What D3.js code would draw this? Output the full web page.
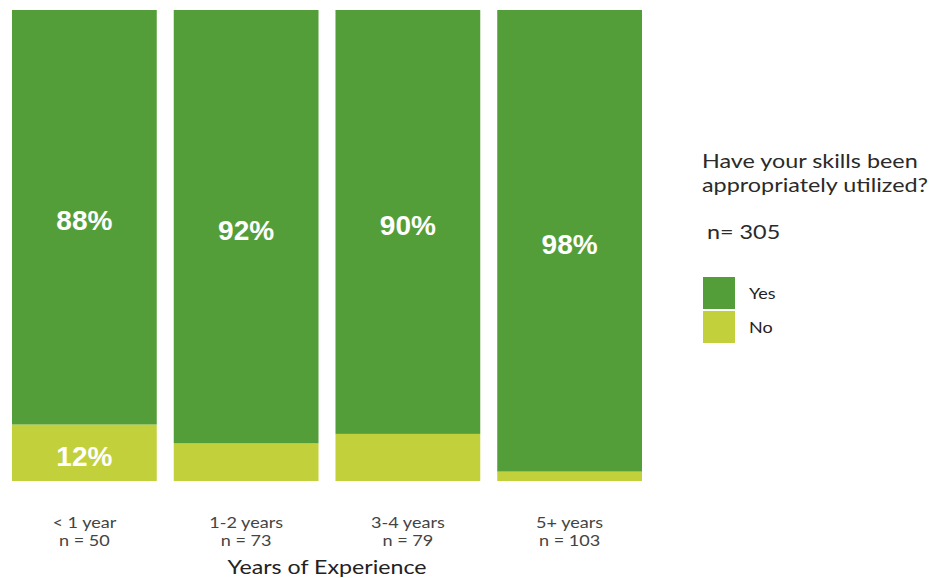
<!DOCTYPE html>
<html>
<head>
<meta charset="utf-8">
<script src="https://cdn.jsdelivr.net/npm/d3@7"></script>
<style>
  html, body { margin: 0; padding: 0; background: #fff; }
  svg { display: block; }
</style>
</head>
<body>
<svg id="chart" width="938" height="578"></svg>
<script>
// Survey data: share of respondents by years of experience
const categories = ["< 1 year", "1-2 years", "3-4 years", "5+ years"];
const groupSizes = [50, 73, 79, 103];
const yesValues = [88, 92, 90, 98];
const noValues = [12, 8, 10, 2];
const seriesNames = ["Yes", "No"];
const seriesColors = ["#549e3a", "#c2d03b"];
const legendTitle = ["Have your skills been", "appropriately utilized?"];
const totalLabel = "n= 305";
const axisTitle = "Years of Experience";

const svg = d3.select("#chart");

const rows = categories.map((c, i) => ({ category: c, n: groupSizes[i], Yes: yesValues[i], No: noValues[i] }));

// No sits at the bottom, Yes stacked above it
const stack = d3.stack().keys(["No", "Yes"]);
const layers = stack(rows);

const x = d3.scaleBand()
  .domain(categories)
  .range([12, 642])
  .paddingInner(0.105)
  .paddingOuter(0);

const y = d3.scaleLinear()
  .domain([0, 100])
  .range([481, 10]);

const color = d3.scaleOrdinal().domain(seriesNames).range(seriesColors);

// Text drawn slightly wide, as in the original layout
function wideText(sel, px, py, sx) {
  return sel.attr("x", 0).attr("y", 0)
    .attr("transform", `translate(${px},${py}) scale(${sx},1)`);
}

const g = svg.append("g");

layers.forEach(layer => {
  g.selectAll(null)
    .data(layer)
    .join("rect")
    .attr("x", d => x(d.data.category))
    .attr("y", d => y(d[1]))
    .attr("width", x.bandwidth())
    .attr("height", d => y(d[0]) - y(d[1]))
    .attr("fill", color(layer.key));
});

// Value labels inside segments large enough to hold them
layers.forEach(layer => {
  g.selectAll(null)
    .data(layer.filter(d => d[1] - d[0] > 10))
    .join("text")
    .attr("x", d => x(d.data.category) + x.bandwidth() / 2)
    .attr("y", d => (y(d[0]) + y(d[1])) / 2)
    .attr("dy", "0.46em")
    .attr("text-anchor", "middle")
    .attr("font-family", "Liberation Sans, Arial, sans-serif")
    .attr("font-weight", "bold")
    .attr("font-size", 28)
    .attr("fill", "#ffffff")
    .text(d => (d[1] - d[0]) + "%");
});

// Category axis (labels only)
const xAxis = d3.axisBottom(x).tickSize(0).tickFormat(() => "");
const axisG = svg.append("g").attr("transform", "translate(0,481)").call(xAxis);
axisG.select(".domain").remove();
axisG.selectAll(".tick").each(function (c, i) {
  const tick = d3.select(this);
  tick.select("text").remove();
  [c, "n = " + groupSizes[i]].forEach((line, k) => {
    wideText(tick.append("text"), 0, 47 + k * 18, 1.13)
      .attr("text-anchor", "middle")
      .attr("font-family", "Lato, sans-serif")
      .attr("font-size", 16)
      .attr("fill", "#444")
      .text(line);
  });
});

wideText(svg.append("text"), (x.range()[0] + x.range()[1]) / 2, 574, 1.16)
  .attr("text-anchor", "middle")
  .attr("font-family", "Lato, sans-serif")
  .attr("font-size", 20)
  .attr("fill", "#222")
  .text(axisTitle);

// Legend
const legend = svg.append("g").attr("transform", "translate(702,0)");
legendTitle.forEach((line, i) => {
  wideText(legend.append("text"), 0, 168 + i * 24, 1.23)
    .attr("font-family", "Lato, sans-serif")
    .attr("font-size", 19)
    .attr("fill", "#2a2a2a")
    .text(line);
});

wideText(legend.append("text"), 5, 239, 1.23)
  .attr("font-family", "Lato, sans-serif")
  .attr("font-size", 19)
  .attr("fill", "#2a2a2a")
  .text(totalLabel);

const items = legend.selectAll("g.item")
  .data(seriesNames)
  .join("g")
  .attr("class", "item")
  .attr("transform", (d, i) => `translate(1,${277 + i * 34})`);

items.append("rect")
  .attr("width", 32)
  .attr("height", 32)
  .attr("fill", d => color(d));

items.each(function (d) {
  wideText(d3.select(this).append("text"), 46, 22, 1.2)
    .attr("font-family", "Lato, sans-serif")
    .attr("font-size", 15)
    .attr("fill", "#222")
    .text(d);
});
</script>
</body>
</html>
